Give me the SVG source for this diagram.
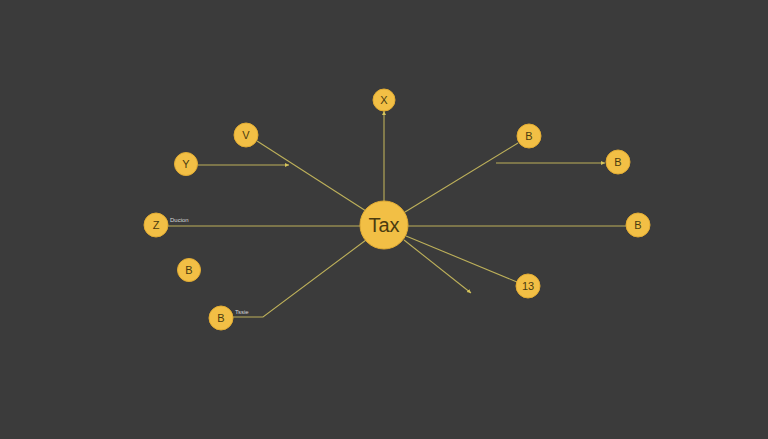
<svg xmlns="http://www.w3.org/2000/svg" width="768" height="439" viewBox="0 0 768 439">
<style>
.n{fill:#f2bf45;stroke:#e2ac33;stroke-width:1}
.t{font-family:"Liberation Sans",Arial,sans-serif;font-size:11px;fill:#4a3b10;text-anchor:middle;dominant-baseline:central}
.c line,.c polyline{stroke:#bdb05a;stroke-width:1.1;fill:none}
.lb{font-family:"Liberation Sans",Arial,sans-serif;font-size:6px;fill:#d8d8d8}
</style>
<defs>
<marker id="a" markerWidth="5" markerHeight="5" refX="4" refY="2.5" orient="auto" markerUnits="userSpaceOnUse">
<path d="M0,0.5 L4,2.5 L0,4.5 Z" fill="#d6c45a"/>
</marker>
</defs>
<rect width="768" height="439" fill="#3b3b3b"/>
<g class="c" id="connectors">
<line x1="384" y1="201" x2="384" y2="111" marker-end="url(#a)"/>
<line x1="257" y1="141" x2="366" y2="211"/>
<line x1="198" y1="165" x2="289" y2="165" marker-end="url(#a)"/>
<line x1="168" y1="226" x2="360" y2="226"/>
<polyline points="233,317 263,317 366,240"/>
<line x1="518" y1="143" x2="405" y2="212"/>
<line x1="496" y1="163" x2="605" y2="163" marker-end="url(#a)"/>
<line x1="408" y1="226" x2="626" y2="226"/>
<line x1="406" y1="236" x2="517" y2="282"/>
<line x1="404" y1="240" x2="471" y2="293" marker-end="url(#a)"/>
<text class="lb" x="170" y="222">Ducion</text>
<text class="lb" x="235" y="314">Tssie</text>
</g>
<g id="tax"><circle class="n" cx="384" cy="225" r="24"/><text class="t" x="384" y="225" style="font-size:20px">Tax</text></g>
<g id="x"><circle class="n" cx="384" cy="100" r="11"/><text class="t" x="384" y="100">X</text></g>
<g id="v"><circle class="n" cx="246" cy="135" r="12"/><text class="t" x="246" y="135">V</text></g>
<g id="y"><circle class="n" cx="186" cy="164" r="11.5"/><text class="t" x="186" y="164">Y</text></g>
<g id="z"><circle class="n" cx="156" cy="225" r="12"/><text class="t" x="156" y="225">Z</text></g>
<g id="b1"><circle class="n" cx="189" cy="270" r="11.5"/><text class="t" x="189" y="270">B</text></g>
<g id="b2"><circle class="n" cx="221" cy="318" r="12"/><text class="t" x="221" y="318">B</text></g>
<g id="b3"><circle class="n" cx="529" cy="136" r="12"/><text class="t" x="529" y="136">B</text></g>
<g id="b4"><circle class="n" cx="618" cy="162" r="12"/><text class="t" x="618" y="162">B</text></g>
<g id="b5"><circle class="n" cx="638" cy="225" r="12"/><text class="t" x="638" y="225">B</text></g>
<g id="n13"><circle class="n" cx="528" cy="286" r="12"/><text class="t" x="528" y="286">13</text></g>
</svg>
